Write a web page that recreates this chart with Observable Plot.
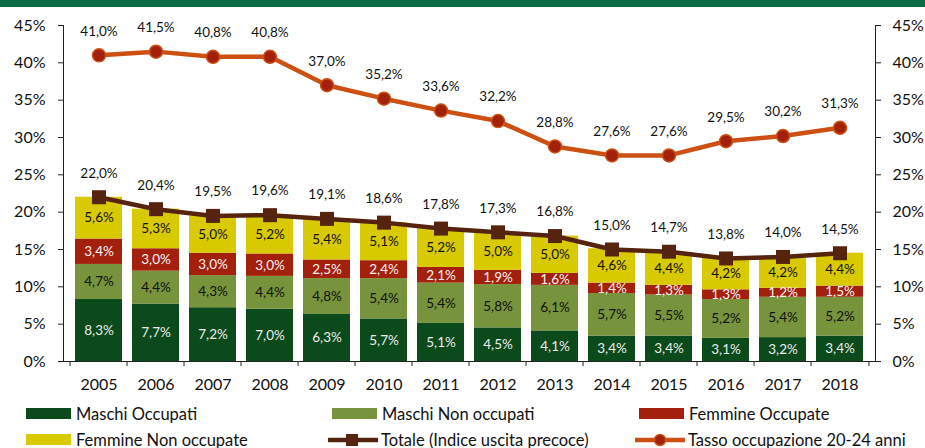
<!DOCTYPE html>
<html>
<head>
<meta charset="utf-8">
<script src="https://cdn.jsdelivr.net/npm/d3@7"></script>
<script src="https://cdn.jsdelivr.net/npm/@observablehq/plot@0.6"></script>
<style>
  html, body { margin: 0; padding: 0; background: #ffffff; }
  body { width: 925px; height: 448px; overflow: hidden; font-family: Lato, "Open Sans", sans-serif; }
  #band { height: 7px; background: #0c6b45; }
  #chart svg { display: block; }
  #legend { position: relative; height: 49px; }
  .item { position: absolute; display: flex; align-items: center; height: 20px; font-size: 16.5px; color: #111; white-space: nowrap; }
  .sw { width: 45px; height: 11px; margin-right: 5px; }
  .ln { width: 50px; height: 14px; margin-right: 3px; }
</style>
</head>
<body>
<div id="band"></div>
<div id="chart"></div>
<div id="legend"></div>
<script>
// ---- data ----
const years = ["2005","2006","2007","2008","2009","2010","2011","2012","2013","2014","2015","2016","2017","2018"];
const maschiOccupati      = [8.3, 7.7, 7.2, 7.0, 6.3, 5.7, 5.1, 4.5, 4.1, 3.4, 3.4, 3.1, 3.2, 3.4];
const maschiNonOccupati   = [4.7, 4.4, 4.3, 4.4, 4.8, 5.4, 5.4, 5.8, 6.1, 5.7, 5.5, 5.2, 5.4, 5.2];
const femmineOccupate     = [3.4, 3.0, 3.0, 3.0, 2.5, 2.4, 2.1, 1.9, 1.6, 1.4, 1.3, 1.3, 1.2, 1.5];
const femmineNonOccupate  = [5.6, 5.3, 5.0, 5.2, 5.4, 5.1, 5.2, 5.0, 5.0, 4.6, 4.4, 4.2, 4.2, 4.4];
const totale              = [22.0, 20.4, 19.5, 19.6, 19.1, 18.6, 17.8, 17.3, 16.8, 15.0, 14.7, 13.8, 14.0, 14.5];
const tassoOccupazione    = [41.0, 41.5, 40.8, 40.8, 37.0, 35.2, 33.6, 32.2, 28.8, 27.6, 27.6, 29.5, 30.2, 31.3];
const seriesNames = ["Maschi Occupati", "Maschi Non occupati", "Femmine Occupate", "Femmine Non occupate"];
const lineNames = ["Totale (Indice uscita precoce)", "Tasso occupazione 20-24 anni"];
const yTicks = [0, 5, 10, 15, 20, 25, 30, 35, 40, 45];

// ---- styles ----
const barColors = ["#0b4a1b", "#77933c", "#a2200c", "#d9c900"];
const labelColors = ["#ececec", "#111111", "#f4f4f4", "#111111"];
const totColor = "#55230e";
const tassoColor = "#cd5012";
const tassoFill = "#a3200b";

const W = 925, H = 392, mL = 63, mR = 50, mT = 18, mB = 38;
const pInner = 0.18, pOuter = 0.1;
const step = (W - mL - mR) / (years.length - pInner + 2 * pOuter);

const fmt = v => v.toFixed(1).replace(".", ",") + "%";
const seriesValues = [maschiOccupati, maschiNonOccupati, femmineOccupate, femmineNonOccupate];
const stacked = seriesNames.flatMap((s, k) => years.map((y, i) => ({year: y, series: s, k, value: seriesValues[k][i]})));
const totData = years.map((y, i) => ({year: y, v: totale[i]}));
const tassoData = years.map((y, i) => ({year: y, v: tassoOccupazione[i]}));

const chart = Plot.plot({
  width: W, height: H,
  marginLeft: mL, marginRight: mR, marginTop: mT, marginBottom: mB,
  style: {fontFamily: "Lato, 'Open Sans', sans-serif", color: "#111", background: "#fff"},
  x: {domain: years, type: "band", paddingInner: pInner, paddingOuter: pOuter, label: null},
  y: {domain: [0, 45], label: null},
  color: {type: "identity"},
  marks: [
    Plot.barY(stacked, {x: "year", y: "value", z: "series", fill: d => barColors[d.k]}),
    Plot.text(stacked, Plot.stackY({x: "year", y: "value", z: "series", text: d => fmt(d.value), fill: d => labelColors[d.k], fontSize: 13.5})),
    // axis frame lines
    Plot.frame({anchor: "left", stroke: "#222"}),
    Plot.frame({anchor: "right", stroke: "#222"}),
    Plot.ruleY([0], {stroke: "#222"}),
    // category boundary ticks
    Plot.ruleX(years, {x: d => d, y1: 0, y2: 0, insetBottom: -5, dx: -step / 2, stroke: "#222"}),
    Plot.ruleX(years.slice(-1), {x: d => d, y1: 0, y2: 0, insetBottom: -5, dx: step / 2, stroke: "#222"}),
    Plot.axisY(yTicks, {anchor: "left", tickSize: 5, tickPadding: 13, tickFormat: d => d + "%", fontSize: 16, stroke: "#222", label: null}),
    Plot.axisY(yTicks, {anchor: "right", tickSize: 5, tickPadding: 12, tickFormat: d => d + "%", fontSize: 16, stroke: "#222", label: null}),
    Plot.axisX({tickSize: 0, tickPadding: 17, fontSize: 16, label: null}),
    // totale line
    Plot.line(totData, {x: "year", y: "v", stroke: totColor, strokeWidth: 4.5}),
    Plot.dot(totData, {x: "year", y: "v", symbol: "square", r: 7.9, fill: totColor, stroke: "none"}),
    Plot.text(totData, {x: "year", y: "v", text: d => fmt(d.v), dy: -24, fontSize: 13.5, fill: "#111"}),
    // tasso line
    Plot.line(tassoData, {x: "year", y: "v", stroke: tassoColor, strokeWidth: 4.5}),
    Plot.dot(tassoData, {x: "year", y: "v", r: 6.5, fill: tassoFill, stroke: tassoColor, strokeWidth: 1.5}),
    Plot.text(tassoData, {x: "year", y: "v", text: d => fmt(d.v), dy: -24, fontSize: 13.5, fill: "#111"})
  ]
});
document.getElementById("chart").append(chart);

// ---- legend ----
const legend = document.getElementById("legend");
const cols = [26, 332, 639];
const rows = [4.5, 30.5];
const entries = [
  {name: seriesNames[0], kind: "rect", color: barColors[0]},
  {name: seriesNames[1], kind: "rect", color: barColors[1]},
  {name: seriesNames[2], kind: "rect", color: barColors[2]},
  {name: seriesNames[3], kind: "rect", color: barColors[3]},
  {name: lineNames[0], kind: "square", color: totColor},
  {name: lineNames[1], kind: "circle", color: tassoColor}
];
entries.forEach((e, i) => {
  const div = document.createElement("div");
  div.className = "item";
  div.style.left = (cols[i % 3] - (e.kind === "rect" ? 0 : 4)) + "px";
  div.style.top = rows[Math.floor(i / 3)] + "px";
  let sw;
  if (e.kind === "rect") {
    sw = `<div class="sw" style="background:${e.color}"></div>`;
  } else if (e.kind === "square") {
    sw = `<svg class="ln" viewBox="0 0 50 14"><line x1="1" y1="7" x2="49" y2="7" stroke="${e.color}" stroke-width="4.5" stroke-linecap="round"/><rect x="18" y="1" width="12" height="12" fill="${e.color}"/></svg>`;
  } else {
    sw = `<svg class="ln" viewBox="0 0 50 14"><line x1="1" y1="7" x2="49" y2="7" stroke="${e.color}" stroke-width="4.5" stroke-linecap="round"/><circle cx="25" cy="7" r="5.5" fill="${tassoFill}" stroke="${e.color}" stroke-width="1.5"/></svg>`;
  }
  div.innerHTML = sw + `<span>${e.name}</span>`;
  legend.append(div);
});
</script>
</body>
</html>
